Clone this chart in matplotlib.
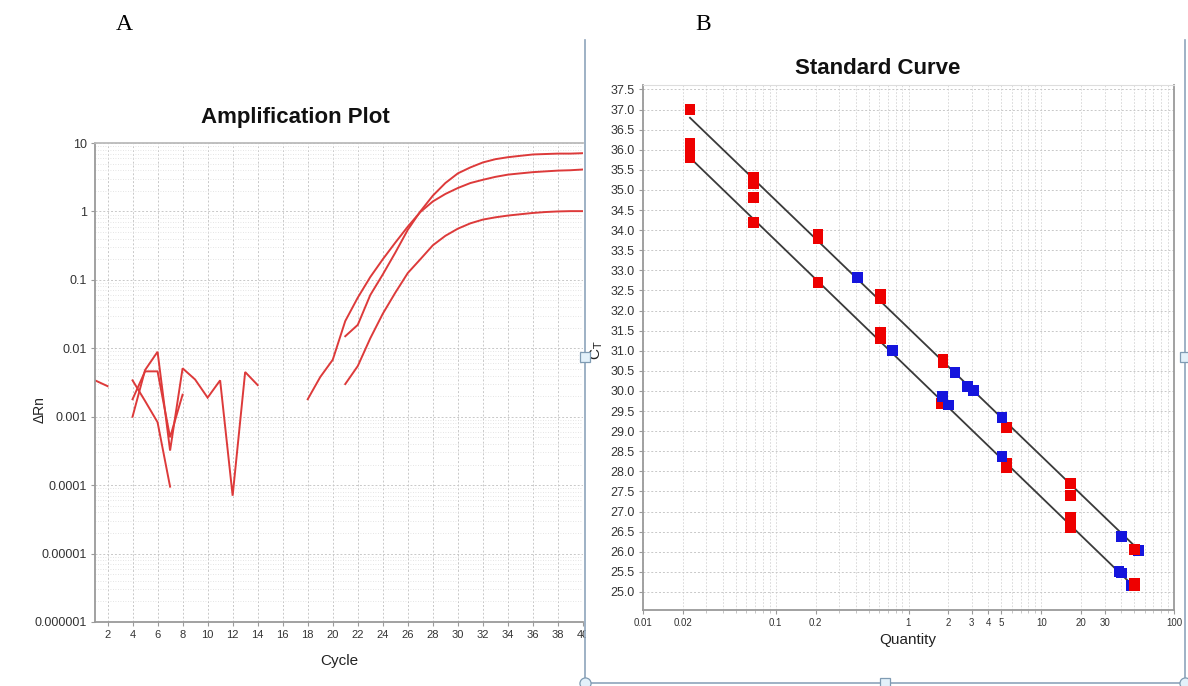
import matplotlib
matplotlib.use("Agg")
import matplotlib.pyplot as plt
import numpy as np
from matplotlib import font_manager as fm
from matplotlib.ticker import FixedLocator, FixedFormatter, NullFormatter, LogLocator
from matplotlib.patches import Rectangle, Circle
from matplotlib.lines import Line2D

# ---------------- Panel A data: amplification plot (cycle vs ΔRn) ----------------
amp_cycles_a = list(range(18, 41))
amp_values_a = [0.0018, 0.0038, 0.0068, 0.025, 0.055, 0.11, 0.2, 0.35, 0.6, 0.98,
                1.4, 1.8, 2.2, 2.6, 2.9, 3.2, 3.45, 3.6, 3.75, 3.85, 3.95, 4.0, 4.1]
amp_cycles_b = list(range(21, 41))
amp_values_b = [0.015, 0.022, 0.06, 0.12, 0.25, 0.54, 1.0, 1.7, 2.6, 3.6, 4.4, 5.2,
                5.8, 6.2, 6.5, 6.8, 6.9, 7.0, 7.0, 7.1]
amp_cycles_c = list(range(21, 41))
amp_values_c = [0.003, 0.0055, 0.014, 0.032, 0.065, 0.126, 0.2, 0.32, 0.44, 0.56,
                0.67, 0.76, 0.82, 0.87, 0.91, 0.95, 0.98, 1.0, 1.01, 1.01]
noise_cycles_1 = [1, 2]
noise_values_1 = [0.0034, 0.0028]
noise_cycles_2 = [4, 5, 6, 7]
noise_values_2 = [0.0034, 0.0017, 0.00083, 0.000095]
noise_cycles_3 = [4, 5, 6, 7, 8]
noise_values_3 = [0.0018, 0.0046, 0.0046, 0.0005, 0.0021]
noise_cycles_4 = [4, 5, 6, 7, 8, 9, 10, 11, 12, 13, 14]
noise_values_4 = [0.001, 0.0048, 0.0089, 0.00032, 0.0051, 0.0035, 0.0019, 0.0034,
                  0.00007, 0.0045, 0.0029]
amp_xticks = list(range(2, 41, 2))
amp_yticks = [1e-6, 1e-5, 1e-4, 1e-3, 1e-2, 1e-1, 1, 10]
amp_ytick_labels = ["0.000001", "0.00001", "0.0001", "0.001", "0.01", "0.1", "1", "10"]

# ---------------- Panel B data: standard curve (quantity vs CT) ----------------
# drawn in this order (later points on top)
sample_quantity = [0.0226, 0.0226, 0.0226, 0.0226,
                   0.0675, 0.0675, 0.0675, 0.0675,
                   0.208, 0.208, 0.208,
                   0.62, 0.62, 0.62, 0.62,
                   1.82, 1.82, 1.78,
                   5.5, 5.5, 5.5,
                   16.7, 16.7, 16.7, 16.7, 16.7,
                   0.41, 0.76, 2.24, 2.8, 3.1, 1.79, 2.0, 5.06, 5.06,
                   40.5, 54.0, 38.5, 40.0, 48.0,
                   50.8, 50.8, 50.8]
sample_ct = [37.0, 36.15, 35.95, 35.8,
             35.3, 35.15, 34.8, 34.2,
             33.9, 33.8, 32.7,
             32.4, 32.3, 31.45, 31.3,
             30.78, 30.7, 29.68,
             29.08, 28.2, 28.1,
             27.7, 27.4, 26.85, 26.7, 26.6,
             32.81, 31.0, 30.45, 30.1, 30.0, 29.85, 29.65, 29.33, 28.38,
             26.39, 26.03, 25.5, 25.47, 25.17,
             26.05, 25.2, 25.15]
sample_group = ["R"] * 26 + ["B"] * 14 + ["R"] * 3
curve_slopes = [-3.18, -3.19]
curve_intercepts = [31.56, 30.55]
curve_q_start = [0.0226, 0.0226]
curve_q_end = [54.0, 50.0]
std_xticks = [0.01, 0.02, 0.1, 0.2, 1, 2, 3, 4, 5, 10, 20, 30, 100]
std_xtick_labels = ["0.01", "0.02", "0.1", "0.2", "1", "2", "3", "4", "5", "10", "20", "30", "100"]
std_yticks = list(np.arange(25.0, 37.51, 0.5))

# ---------------- styling ----------------
names = {f.name for f in fm.fontManager.ttflist}
SANS = "Liberation Sans" if "Liberation Sans" in names else "DejaVu Sans"
NARROW = "Liberation Sans Narrow" if "Liberation Sans Narrow" in names else SANS
SERIF = "Liberation Serif" if "Liberation Serif" in names else "DejaVu Serif"
plt.rcParams["font.family"] = [SANS, "DejaVu Sans"]

W, H = 1188, 686
fig = plt.figure(figsize=(W / 100, H / 100), dpi=100)
fig.patch.set_facecolor("white")


def fx(px):
    return px / W


def fy(py):
    return 1 - py / H


LINE_RED = "#dd3a3a"
SPINE = "#9a9a9a"
TXT = "#333333"
GRID = "#c8c8c8"

# ---------------- Panel A ----------------
axA = fig.add_axes([fx(95), fy(622), fx(583) - fx(95), fy(143) - fy(622)])
axA.set_zorder(0)
for cx, cy in [(amp_cycles_a, amp_values_a), (amp_cycles_b, amp_values_b),
               (amp_cycles_c, amp_values_c), (noise_cycles_1, noise_values_1),
               (noise_cycles_2, noise_values_2), (noise_cycles_3, noise_values_3),
               (noise_cycles_4, noise_values_4)]:
    axA.plot(cx, cy, color=LINE_RED, lw=1.4, solid_joinstyle="miter")
axA.set_yscale("log")
axA.set_xlim(1, 40)
axA.set_ylim(1e-6, 10)
axA.xaxis.set_major_locator(FixedLocator(amp_xticks))
axA.set_xticklabels([str(t) for t in amp_xticks], fontsize=8, family=NARROW, color=TXT)
axA.yaxis.set_major_locator(FixedLocator(amp_yticks))
axA.yaxis.set_major_formatter(FixedFormatter(amp_ytick_labels))
axA.yaxis.set_minor_locator(LogLocator(base=10, subs=np.arange(2, 10), numticks=20))
axA.yaxis.set_minor_formatter(NullFormatter())
for lab in axA.get_yticklabels():
    lab.set_fontsize(9)
    lab.set_color(TXT)
axA.tick_params(axis="both", which="major", length=3, width=0.8, color=SPINE, pad=3)
axA.tick_params(axis="y", which="minor", length=0)
axA.grid(True, which="major", axis="both", color=GRID, lw=0.7, ls=(0, (2, 2)))
axA.grid(True, which="minor", axis="y", color="#dcdcdc", lw=0.6, ls=(0, (1, 2)))
for s in ["left", "bottom", "top"]:
    axA.spines[s].set_color(SPINE)
    axA.spines[s].set_linewidth(1.3)
axA.spines["top"].set_color("#bbbbbb")
axA.spines["right"].set_visible(False)

fig.text(fx(295), fy(118), "Amplification Plot", ha="center", va="center",
         fontsize=16, fontweight="bold", color="#111111")
fig.text(fx(339), fy(661), "Cycle", ha="center", va="center", fontsize=11, color="#222222")
fig.text(fx(40), fy(410), "ΔRn", ha="center", va="center", rotation=90,
         fontsize=10, color="#222222")
fig.text(fx(124), fy(25), "A", ha="center", va="center", fontsize=17,
         family=SERIF, color="black")
fig.text(fx(703), fy(25), "B", ha="center", va="center", fontsize=17,
         family=SERIF, color="black")

# ---------------- white cover for panel B ----------------
fig.patches.append(Rectangle((fx(586), 0), 1 - fx(586), fy(40), transform=fig.transFigure,
                             facecolor="white", edgecolor="none", zorder=1))

# ---------------- Panel B ----------------
axB = fig.add_axes([fx(643), fy(610), fx(1174) - fx(643), fy(85) - fy(610)])
axB.set_zorder(2)
axB.set_xscale("log")
axB.set_xlim(0.01, 100)
axB.set_ylim(24.55, 37.61)
for k in range(len(curve_slopes)):
    q = np.array([curve_q_start[k], curve_q_end[k]])
    axB.plot(q, curve_intercepts[k] + curve_slopes[k] * np.log10(q),
             color="#3a3a3a", lw=1.3, zorder=3)
cols = ["#ee0000" if g == "R" else "#1515dd" for g in sample_group]
axB.scatter(sample_quantity, sample_ct, c=cols, marker="s", s=62, linewidths=0, zorder=4)
axB.xaxis.set_major_locator(FixedLocator(std_xticks))
axB.xaxis.set_major_formatter(FixedFormatter(std_xtick_labels))
axB.xaxis.set_minor_locator(LogLocator(base=10, subs=np.arange(1, 10), numticks=20))
axB.xaxis.set_minor_formatter(NullFormatter())
axB.yaxis.set_major_locator(FixedLocator(std_yticks))
axB.set_yticklabels([f"{t:.1f}" for t in std_yticks])
for lab in axB.get_xticklabels():
    lab.set_fontsize(7)
    lab.set_family(NARROW)
    lab.set_color(TXT)
for lab in axB.get_yticklabels():
    lab.set_fontsize(9)
    lab.set_color(TXT)
axB.tick_params(axis="both", which="major", length=3, width=0.8, color=SPINE, pad=3)
axB.tick_params(axis="x", which="minor", length=2, width=0.6, color="#bbbbbb")
axB.grid(True, which="major", axis="y", color=GRID, lw=0.7, ls=(0, (2, 2)))
axB.grid(True, which="both", axis="x", color="#d3d3d3", lw=0.6, ls=(0, (2, 2)))
for s in ["left", "bottom", "right"]:
    axB.spines[s].set_color(SPINE)
    axB.spines[s].set_linewidth(1.3)
axB.spines["top"].set_color("#dddddd")

fig.text(fx(878), fy(68), "Standard Curve", ha="center", va="center",
         fontsize=16, fontweight="bold", color="#111111", zorder=5)
fig.text(fx(908), fy(640), "Quantity", ha="center", va="center", fontsize=11,
         color="#222222", zorder=5)
fig.text(fx(597), fy(350), r"C$_{\mathrm{T}}$", ha="center", va="center", rotation=90,
         fontsize=11, color="#222222", zorder=5)

# ---------------- embedded-picture frame and handles ----------------
FRAME = "#8ea4bb"
for (x0, y0, x1, y1) in [(585, 40, 585, 683), (1185, 40, 1185, 683), (585, 683, 1185, 683)]:
    fig.add_artist(Line2D([fx(x0), fx(x1)], [fy(y0), fy(y1)], color=FRAME, lw=1.2,
                          zorder=6, transform=fig.transFigure))
for (hx, hy) in [(585, 357), (1185, 357), (885, 683)]:
    fig.patches.append(Rectangle((fx(hx - 5), fy(hy + 5)), fx(10), 10 / H,
                                 transform=fig.transFigure, facecolor="#e3f1fa",
                                 edgecolor="#7f9bb3", lw=0.9, zorder=7))
for (hx, hy) in [(585, 683), (1185, 683)]:
    fig.add_artist(Line2D([fx(hx)], [fy(hy)], marker="o", markersize=8,
                          markerfacecolor="#e3f1fa", markeredgecolor="#7f9bb3",
                          markeredgewidth=0.9, transform=fig.transFigure, zorder=7))

fig.savefig("out.png", dpi=100, facecolor="white")
